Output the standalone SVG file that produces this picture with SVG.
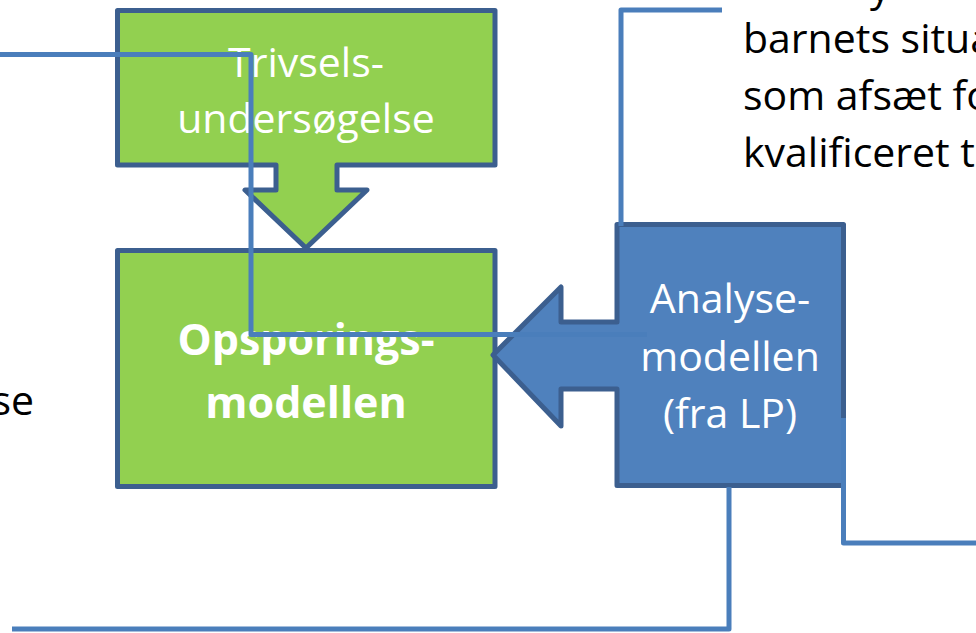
<svg xmlns="http://www.w3.org/2000/svg" width="976" height="633" viewBox="0 0 976 633">
<style>
.node{stroke:#3c5f8f;stroke-width:5;stroke-linejoin:round}
.green{fill:#92d050}
.blue{fill:#4f81bd}
.lbl{font-family:"Open Sans","Noto Sans",sans-serif;font-size:41px;fill:#ffffff;text-anchor:middle}
.bold{font-weight:bold;font-size:43px}
.txt{font-family:"Open Sans","Noto Sans",sans-serif;font-size:41px;fill:#000000}
.conn{fill:none;stroke:#4a7ebb;stroke-width:5;stroke-linejoin:round}
</style>
<rect width="976" height="633" fill="#ffffff"/>
<g id="text-right">
<text class="txt" x="870" y="1">y</text>
<text class="txt" x="743" y="53">barnets situa</text>
<text class="txt" x="743" y="110">som afsæt fo</text>
<text class="txt" x="743" y="167">kvalificeret t</text>
</g>
<g id="text-left">
<text class="txt" x="34" y="415" text-anchor="end">se</text>
</g>
<g id="trivsel">
<path class="node green" d="M117.5,10.5 H495 V165 H337 V190 H367 L306,248 L245,190 H276 V165 H117.5 Z"/>
<text class="lbl" x="306" y="77">Trivsels-</text>
<text class="lbl" x="306" y="133">undersøgelse</text>
</g>
<g id="opsporing">
<rect class="node green" x="117.5" y="250.5" width="377.5" height="236"/>
<text class="lbl bold" x="306" y="355">Opsporings-</text>
<text class="lbl bold" x="306" y="418">modellen</text>
</g>
<g id="analyse">
<path class="node blue" d="M617,224.5 H843.5 V485.5 H617 V389 H561 V426 L493,355 L561,287 V322 H617 Z"/>
<text class="lbl" x="730" y="313">Analyse-</text>
<text class="lbl" x="730" y="371">modellen</text>
<text class="lbl" x="730" y="428">(fra LP)</text>
</g>
<g id="connectors">
<path class="conn" d="M0,54.5 H251 V334.5 H647"/>
<path class="conn" d="M621,226 V10 H722"/>
<path class="conn" d="M843.5,418 V543 H976"/>
<path class="conn" d="M729,487 V629 H12"/>
</g>
</svg>
